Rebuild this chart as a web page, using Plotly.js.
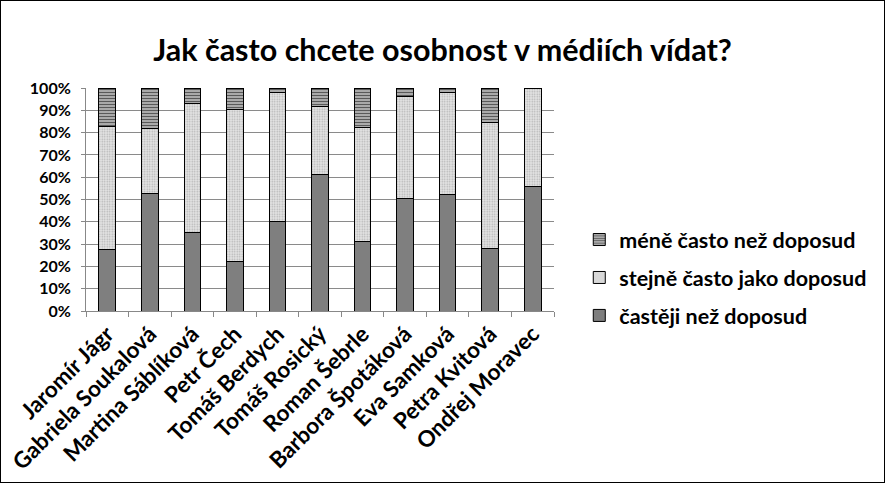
<!DOCTYPE html>
<html><head><meta charset="utf-8">
<script src="https://cdn.plot.ly/plotly-3.0.1.min.js"></script>
<style>
html,body{margin:0;padding:0;background:#fff;}
#chart{width:885px;height:483px;box-sizing:border-box;border:1px solid #000;}
</style></head>
<body><div id="chart"></div>
<script>
const categories = ["Jaromír Jágr","Gabriela Soukalová","Martina Sáblíková","Petr Čech","Tomáš Berdych","Tomáš Rosický","Roman Šebrle","Barbora Špotáková","Eva Samková","Petra Kvitová","Ondřej Moravec"];
const castejiValues = [27.6, 52.8, 35.0, 22.4, 40.0, 61.4, 31.2, 50.3, 52.1, 28.2, 56.0];
const stejneValues  = [55.2, 29.0, 57.9, 68.1, 57.8, 30.1, 51.2, 45.7, 46.0, 56.4, 44.0];
const meneValues    = [17.2, 18.2, 7.1, 9.5, 2.2, 8.5, 17.6, 4.0, 1.9, 15.4, 0.0];
const seriesNames = ["častěji než doposud","stejně často jako doposud","méně často než doposud"];

const fnt = "Lato, 'Open Sans', sans-serif";
const line = {color:'#000', width:1};
const traces = [
  {type:'bar', name:seriesNames[0], legendgroup:'a', legendrank:3, x:categories, y:castejiValues,
   marker:{color:'#7f7f7f', line:line}},
  {type:'bar', name:seriesNames[1], legendgroup:'b', legendrank:2, x:categories, y:stejneValues,
   marker:{color:'#d9d9d9', line:line, pattern:{shape:'.', fgcolor:'#b0b0b0', bgcolor:'#e4e4e4', size:2.5, solidity:0.3}}},
  {type:'bar', name:seriesNames[2], legendgroup:'c', legendrank:1, x:categories, y:meneValues,
   marker:{color:'#9a9a9a', line:line, pattern:{shape:'-', fgcolor:'#5a5a5a', bgcolor:'#c4c4c4', size:3, solidity:0.5}}}
];
const layout = {
  width:883, height:481,
  margin:{l:85, r:306, t:87, b:171, pad:0},
  barmode:'stack', bargap:0.61,
  paper_bgcolor:'#fff', plot_bgcolor:'#fff',
  title:{text:'<b>Jak často chcete osobnost v médiích vídat?</b>', x:0.5, xanchor:'center', y:0.897, yanchor:'middle',
         font:{family:fnt, size:30.5, color:'#000'}},
  font:{family:fnt, color:'#000'},
  xaxis:{type:'category', tickangle:-45, tickfont:{family:fnt, size:22.5, color:'#000', weight:'bold'},
         showline:true, linecolor:'#888', linewidth:1, ticks:'outside', tickson:'boundaries', ticklen:5, tickcolor:'#888', showgrid:false},
  yaxis:{range:[0,100], dtick:10, ticksuffix:'%', tickfont:{family:fnt, size:16, color:'#000', weight:'bold'},
         showline:true, linecolor:'#888', linewidth:1, ticks:'outside', ticklen:4, tickcolor:'#888', ticklabelstandoff:7,
         showgrid:true, gridcolor:'#8a8a8a', gridwidth:1, zeroline:false},
  legend:{x:1.054, xanchor:'left', y:0.15, yanchor:'middle', traceorder:'grouped',
          font:{family:fnt, size:21.5, color:'#000', weight:'bold'}, tracegroupgap:7, itemwidth:30},
  showlegend:true
};
Plotly.newPlot('chart', traces, layout, {displayModeBar:false, staticPlot:true});
</script></body></html>
